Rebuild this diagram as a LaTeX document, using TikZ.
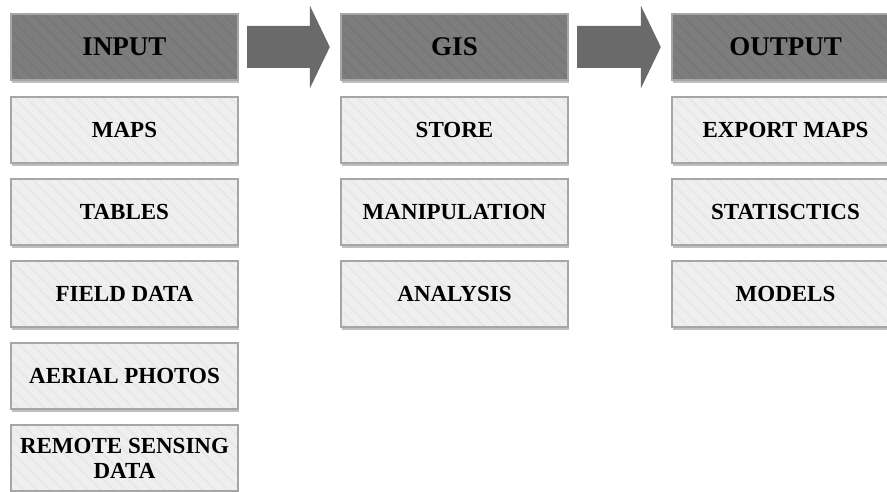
\documentclass[tikz,border=0pt]{standalone}
\usepackage{fontspec}
\setmainfont{Liberation Serif}
\usetikzlibrary{patterns.meta,shadows}
\definecolor{headgray}{HTML}{7D7D7D}
\definecolor{headline}{HTML}{777777}
\definecolor{boxgray}{HTML}{EFEFEF}
\definecolor{boxline}{HTML}{E7E7E7}
\definecolor{edgegray}{HTML}{A6A6A6}
\definecolor{arrowgray}{HTML}{6A6A6A}
\tikzset{
	gisbox/.style={minimum width=227pt,minimum height=66pt,inner sep=0pt,align=center,
		font=\fontsize{23}{25}\selectfont\bfseries,
		drop shadow={shadow xshift=1pt,shadow yshift=-3pt,opacity=0.25,fill=black}},
	headbox/.style={gisbox,fill=headgray,font=\fontsize{27}{30}\selectfont\bfseries,
		postaction={pattern={Lines[angle=-45,distance=9pt,line width=1.6pt]},pattern color=headline},
		postaction={draw=edgegray,line width=1.2pt}},
	itembox/.style={gisbox,fill=boxgray,
		postaction={pattern={Lines[angle=-45,distance=9pt,line width=1.6pt]},pattern color=boxline},
		postaction={draw=edgegray,line width=1.2pt}},
	bigarrow/.style={fill=arrowgray,draw=none}
}
\newcommand{\blockarrow}[2]{%
	\fill[bigarrow] ([shift={(9,21)}]#1.east) -- ([shift={(-31,21)}]#2.west) -- ([shift={(-31,41.5)}]#2.west)
		-- ([shift={(-11,0)}]#2.west) -- ([shift={(-31,-41.5)}]#2.west) -- ([shift={(-31,-21)}]#2.west)
		-- ([shift={(9,-21)}]#1.east) -- cycle;}

\begin{document}
\begin{tikzpicture}[x=1pt,y=1pt]
		\useasboundingbox (0,0) rectangle (887,491);
		\clip (0,0) rectangle (887,491);

		% headers
		\node[headbox] (input) at (124.5,444) {INPUT};
		\node[headbox] (gis) at (454.5,444) {GIS};
		\node[headbox] (output) at (785.5,444) {OUTPUT};

		\blockarrow{input}{gis}
		\blockarrow{gis}{output}

		% input column
		\node[itembox] (maps) at (124.5,361) {MAPS};
		\node[itembox] (tables) at (124.5,279) {TABLES};
		\node[itembox] (field) at (124.5,197) {FIELD DATA};
		\node[itembox] (aerial) at (124.5,115) {AERIAL PHOTOS};
		\node[itembox] (remote) at (124.5,33) {REMOTE SENSING\\DATA};

		% gis column
		\node[itembox] (store) at (454.5,361) {STORE};
		\node[itembox] (manip) at (454.5,279) {MANIPULATION};
		\node[itembox] (analysis) at (454.5,197) {ANALYSIS};

		% output column
		\node[itembox] (export) at (785.5,361) {EXPORT MAPS};
		\node[itembox] (stats) at (785.5,279) {STATISCTICS};
		\node[itembox] (models) at (785.5,197) {MODELS};
	\end{tikzpicture}
\end{document}
